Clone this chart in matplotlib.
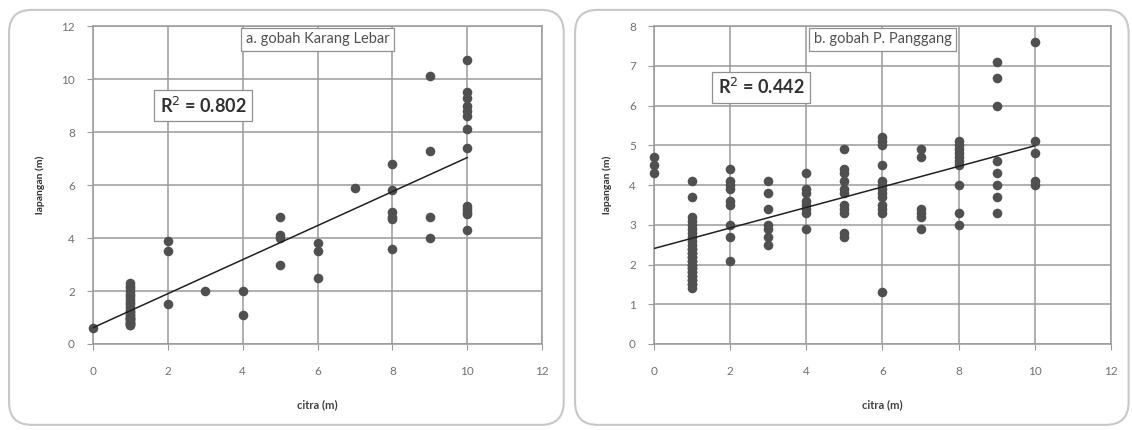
import numpy as np
import matplotlib
matplotlib.use("Agg")
from matplotlib import pyplot as plt
from matplotlib.patches import FancyBboxPatch

plt.rcParams['font.family'] = ['Lato', 'DejaVu Sans']

# panel a - gobah Karang Lebar (the x=1 column is a dense stack of overlapping points)
xa = [0] + [1]*25 + [2]*3 + [3] + [4]*2 + [5]*4 + [6]*3 + [7] + [8]*6 + [9]*4 + [10]*13
ya = [0.6,
      0.7, 0.8, 0.9, 1.0, 1.1, 1.2, 1.3, 1.4, 1.5, 1.6, 1.7, 1.8, 1.9, 2.0, 2.1, 2.2, 2.3,
      0.7, 0.8, 0.8, 0.9, 1.0, 1.0, 1.1, 1.2,
      3.9, 3.5, 1.5,
      2.0,
      2.0, 1.1,
      4.8, 4.1, 4.0, 3.0,
      3.8, 3.5, 2.5,
      5.9,
      6.8, 5.8, 5.0, 4.8, 4.7, 3.6,
      10.1, 7.3, 4.8, 4.0,
      10.7, 9.5, 9.3, 9.0, 8.8, 8.6, 8.1, 7.4, 5.2, 5.1, 5.0, 4.9, 4.3]

# panel b - gobah P. Panggang
xb = [0]*3 + [1]*31 + [2]*9 + [3]*7 + [4]*8 + [5]*11 + [6]*13 + [7]*6 + [8]*10 + [9]*8 + [10]*5
yb = [4.7, 4.5, 4.3,
      4.1, 3.7, 3.2, 3.1, 3.0, 2.9, 2.8, 2.7, 2.6, 2.5, 2.4, 2.3, 2.2, 2.1, 2.0, 1.9, 1.8, 1.7, 1.6, 1.5, 1.4,
      1.5, 1.6, 1.7, 1.8, 1.9, 2.0, 2.1, 2.2, 2.3, 2.4,
      4.4, 4.1, 4.0, 3.9, 3.6, 3.5, 3.0, 2.7, 2.1,
      4.1, 3.8, 3.4, 3.0, 2.9, 2.7, 2.5,
      4.3, 3.9, 3.8, 3.6, 3.5, 3.4, 3.3, 2.9,
      4.9, 4.4, 4.3, 4.1, 3.9, 3.8, 3.5, 3.4, 3.3, 2.8, 2.7,
      5.2, 5.1, 5.0, 4.5, 4.1, 4.0, 3.9, 3.8, 3.7, 3.5, 3.4, 3.3, 1.3,
      4.9, 4.7, 3.4, 3.3, 3.2, 2.9,
      5.1, 5.0, 4.9, 4.8, 4.7, 4.6, 4.5, 4.0, 3.3, 3.0,
      7.1, 6.7, 6.0, 4.6, 4.3, 4.0, 3.7, 3.3,
      7.6, 5.1, 4.8, 4.1, 4.0]

titles = ['a. gobah Karang Lebar', 'b. gobah P. Panggang']
r2_labels = ['R$^2$ = 0.802', 'R$^2$ = 0.442']
xticks = [0, 2, 4, 6, 8, 10, 12]
yticks_a = [0, 2, 4, 6, 8, 10, 12]
yticks_b = [0, 1, 2, 3, 4, 5, 6, 7, 8]

fig = plt.figure(figsize=(11.32, 4.3), dpi=100)

# chart area frames (Excel style rounded boxes)
for x0, w in [(0.008, 0.490), (0.508, 0.489)]:
    fig.patches.append(FancyBboxPatch((x0, 0.012), w, 0.965, boxstyle="round,pad=0,rounding_size=0.02",
                                      transform=fig.transFigure, fc='none', ec='#c8c8c8', lw=1.5,
                                      mutation_aspect=1132/430, zorder=-1))

axa = fig.add_axes([0.0822, 0.2, 0.3966, 0.7395])
axb = fig.add_axes([0.5777, 0.2, 0.4037, 0.7395])

panels = [(axa, xa, ya, yticks_a, (0.245, 0.75)),
          (axb, xb, yb, yticks_b, (0.234, 0.808))]

for i, (ax, x, y, yt, r2pos) in enumerate(panels):
    ax.set_facecolor('none')
    ax.scatter(x, y, s=48, color='#505050', zorder=3, linewidths=0, clip_on=False)
    k, b = np.polyfit(x, y, 1)
    xl = np.array([0, 10])
    ax.plot(xl, k*xl + b, color='#202020', lw=1.1, zorder=4)
    ax.set_xlim(0, 12)
    ax.set_ylim(yt[0], yt[-1])
    ax.set_xticks(xticks)
    ax.set_yticks(yt)
    ax.grid(True, color='#9a9a9a', lw=1.1)
    ax.set_axisbelow(True)
    for s in ax.spines.values():
        s.set_color('#9a9a9a')
        s.set_linewidth(1.1)
    ax.tick_params(direction='out', length=4, color='#9a9a9a', labelsize=8.5, labelcolor='#707070')
    ax.tick_params(axis='x', pad=12)
    ax.tick_params(axis='y', pad=9)
    ax.set_xlabel('citra (m)', fontsize=8, fontweight='bold', color='#404040', labelpad=16)
    ax.set_ylabel('lapangan (m)', fontsize=7.5, fontweight='bold', color='#303030', labelpad=12)
    ax.text(0.5, 0.958, titles[i], transform=ax.transAxes, ha='center', va='center',
            fontsize=10.5, color='#505050', zorder=6,
            bbox=dict(boxstyle='square,pad=0.3', fc='white', ec='#909090', lw=0.9))
    ax.text(r2pos[0], r2pos[1], r2_labels[i], transform=ax.transAxes, ha='center', va='center',
            fontsize=13, fontweight='bold', color='#303030', zorder=6,
            bbox=dict(boxstyle='square,pad=0.3', fc='white', ec='#909090', lw=0.9))

fig.savefig('out.png', dpi=100)
